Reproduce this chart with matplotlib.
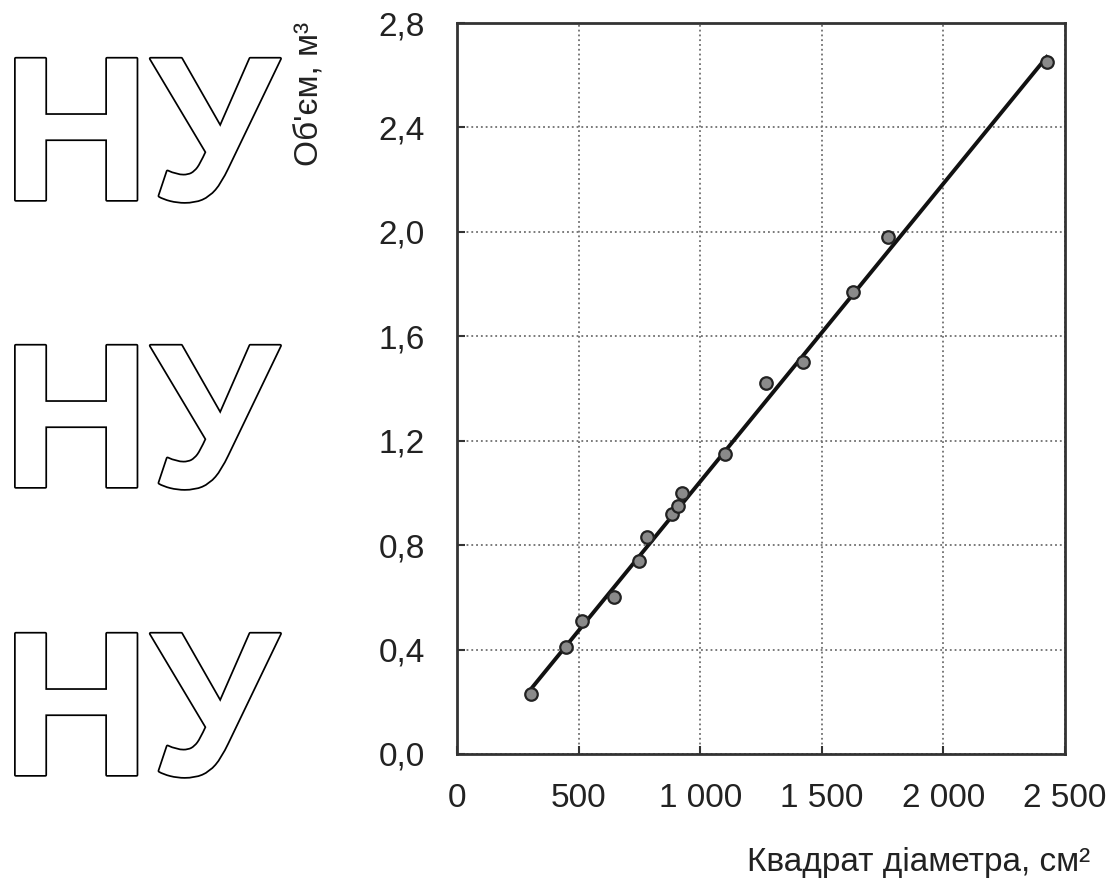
import numpy as np
import matplotlib
matplotlib.use("Agg")
import matplotlib.pyplot as plt
import matplotlib.patheffects as pe

# Квадрат діаметра (см^2) та об'єм (м^3)
diam_sq = [305, 450, 515, 645, 750, 782, 886, 907, 925, 1104, 1270, 1422, 1628, 1771, 2425]
volume = [0.23, 0.41, 0.51, 0.60, 0.74, 0.83, 0.92, 0.95, 1.00, 1.15, 1.42, 1.50, 1.77, 1.98, 2.65]

# пряма апроксимації (кінцеві точки)
line_x = [305, 2425]
line_y = [0.25, 2.67]

x_ticks = [0, 500, 1000, 1500, 2000, 2500]
x_labels = ['0', '500', '1 000', '1 500', '2 000', '2 500']
y_ticks = [0.0, 0.4, 0.8, 1.2, 1.6, 2.0, 2.4, 2.8]
y_labels = ['0,0', '0,4', '0,8', '1,2', '1,6', '2,0', '2,4', '2,8']

logo_text = 'НУ'
logo_base = [200, 487, 775]  # базові лінії написів, px від верху

plt.rcParams['font.family'] = ['Liberation Sans', 'DejaVu Sans']

W, H = 1115, 892
fig = plt.figure(figsize=(W / 100, H / 100), dpi=100)
ax = fig.add_axes([457 / W, 1 - 754 / H, (1065 - 457) / W, (754 - 23) / H])

ax.plot(line_x, line_y, color='#111111', lw=2.8, zorder=3)
ax.plot(diam_sq, volume, 'o', ms=9, mfc='#8a8a8a', mec='#222222', mew=1.6, zorder=4)

ax.set_xlim(0, 2500)
ax.set_ylim(0, 2.8)
ax.set_xticks(x_ticks)
ax.set_xticklabels(x_labels)
ax.set_yticks(y_ticks)
ax.set_yticklabels(y_labels)
ax.tick_params(axis='both', direction='in', length=6, width=1.5, color='#333333',
               labelsize=24, labelcolor='#222222')
ax.tick_params(axis='x', pad=21)
ax.tick_params(axis='y', pad=23)
ax.grid(True, linestyle=':', color='#6f6f6f', linewidth=1.3)
ax.set_axisbelow(True)
for s in ax.spines.values():
    s.set_linewidth(2)
    s.set_color('#333333')

fig.text(310 / W, 1 - 22 / H, "Об'єм, м³", rotation=90, ha='center', va='top',
         fontsize=24, color='#222222')
fig.text(1090 / W, 1 - 862 / H, 'Квадрат діаметра, см²', ha='right', va='center',
         fontsize=24, color='#222222')

for yb in logo_base:
    fig.text(2 / W, 1 - yb / H, logo_text, ha='left', va='baseline',
             fontsize=148, fontweight='bold', color='white',
             family=['Liberation Sans Narrow', 'Liberation Sans'],
             path_effects=[pe.withStroke(linewidth=2.5, foreground='black')])

fig.savefig('out.png', dpi=100, facecolor='white')
